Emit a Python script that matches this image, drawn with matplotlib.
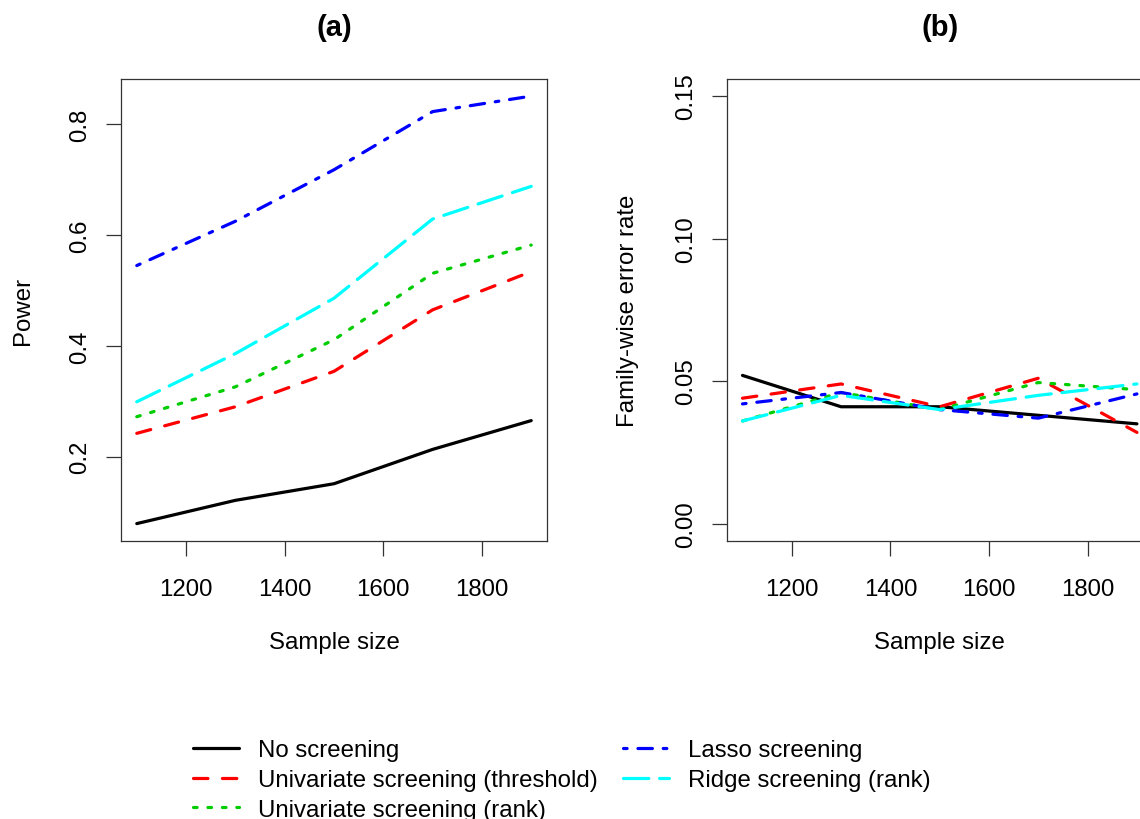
import numpy as np
import matplotlib
matplotlib.use("Agg")
import matplotlib.pyplot as plt

plt.rcParams['font.family'] = ['Liberation Sans', 'DejaVu Sans']
plt.rcParams['lines.scale_dashes'] = False

sample_size = [1100, 1300, 1500, 1700, 1900]

labels = ["No screening",
          "Univariate screening (threshold)",
          "Univariate screening (rank)",
          "Lasso screening",
          "Ridge screening (rank)"]

# panel (a): power
power_none = [0.079, 0.121, 0.151, 0.213, 0.265]
power_uni_thr = [0.242, 0.290, 0.354, 0.465, 0.534]
power_uni_rank = [0.272, 0.326, 0.411, 0.531, 0.582]
power_lasso = [0.545, 0.625, 0.718, 0.823, 0.851]
power_ridge = [0.299, 0.386, 0.486, 0.629, 0.688]

# panel (b): family-wise error rate
fwer_none = [0.052, 0.041, 0.041, 0.038, 0.035]
fwer_uni_thr = [0.044, 0.049, 0.041, 0.051, 0.032]
fwer_uni_rank = [0.036, 0.046, 0.040, 0.0495, 0.047]
fwer_lasso = [0.042, 0.046, 0.040, 0.037, 0.0455]
fwer_ridge = [0.036, 0.045, 0.040, 0.045, 0.049]

x_ticks = [1200, 1400, 1600, 1800]
power_ticks = [0.2, 0.4, 0.6, 0.8]
fwer_ticks = [0.00, 0.05, 0.10, 0.15]
fwer_ticklabels = ["0.00", "0.05", "0.10", "0.15"]

colors = ['black', '#FF0000', '#00CD00', '#0000FF', '#00FFFF']
u = 2.6  # R lty unit in points
styles = [(None, None), (0, (4 * u, 4 * u)), (0, (1 * u, 3 * u)),
          (0, (1 * u, 3 * u, 4 * u, 3 * u)), (0, (7 * u, 3 * u))]

LW = 2.3
FS = 17.3


def r_range(lo, hi):
    d = 0.04 * (hi - lo)
    return lo - d, hi + d


def style_axes(ax):
    for s in ax.spines.values():
        s.set_color('#333333')
        s.set_linewidth(0.9)
    ax.tick_params(direction='out', length=10.5, width=0.9, color='#333333',
                   labelsize=FS, pad=16)
    ax.tick_params(axis='y', labelrotation=90, pad=11)
    for t in ax.get_yticklabels():
        t.set_verticalalignment('center')


fig = plt.figure(figsize=(11.4, 8.2), dpi=100)
W, H = 1140, 820
ax1 = fig.add_axes([121 / W, 1 - 541.7 / H, 426 / W, 461.7 / H])
ax2 = fig.add_axes([726.7 / W, 1 - 541.7 / H, 426 / W, 461.7 / H])

power = [power_none, power_uni_thr, power_uni_rank, power_lasso, power_ridge]
fwer = [fwer_none, fwer_uni_thr, fwer_uni_rank, fwer_lasso, fwer_ridge]

handles = []
for ys, c, ls, lab in zip(power, colors, styles, labels):
    if ls[0] is None:
        h, = ax1.plot(sample_size, ys, color=c, lw=LW, solid_capstyle='round', label=lab)
    else:
        h, = ax1.plot(sample_size, ys, color=c, lw=LW, linestyle=ls,
                      dash_capstyle='round', label=lab)
    handles.append(h)

for ys, c, ls in zip(fwer, colors, styles):
    if ls[0] is None:
        ax2.plot(sample_size, ys, color=c, lw=LW, solid_capstyle='round')
    else:
        ax2.plot(sample_size, ys, color=c, lw=LW, linestyle=ls, dash_capstyle='round')

ax1.set_xlim(*r_range(min(sample_size), max(sample_size)))
ax2.set_xlim(*r_range(min(sample_size), max(sample_size)))
all_power = np.concatenate(power)
ax1.set_ylim(*r_range(all_power.min(), all_power.max()))
ax2.set_ylim(*r_range(0, 0.15))

for ax in (ax1, ax2):
    ax.set_xticks(x_ticks)
    ax.set_xticklabels([str(v) for v in x_ticks])
ax1.set_yticks(power_ticks)
ax1.set_yticklabels([str(v) for v in power_ticks])
ax2.set_yticks(fwer_ticks)
ax2.set_yticklabels(fwer_ticklabels)

style_axes(ax1)
style_axes(ax2)

ax1.set_title("(a)", fontsize=21, fontweight='bold', pad=32)
ax2.set_title("(b)", fontsize=21, fontweight='bold', pad=32)

for ax, yl in ((ax1, "Power"), (ax2, "Family-wise error rate")):
    ax.set_xlabel("Sample size", fontsize=FS)
    ax.set_ylabel(yl, fontsize=FS)
    ax.xaxis.set_label_coords(0.5, -0.196)
    ax.yaxis.set_label_coords(-0.205, 0.5)

fig.legend(handles=handles, labels=labels, loc='upper left',
           bbox_to_anchor=(193 / W, 1 - 740 / H), ncol=2, frameon=False,
           fontsize=FS, handlelength=1.9, handletextpad=0.8,
           columnspacing=1.05, labelspacing=0.33, borderpad=0, borderaxespad=0)

fig.savefig("out.png", dpi=100)
